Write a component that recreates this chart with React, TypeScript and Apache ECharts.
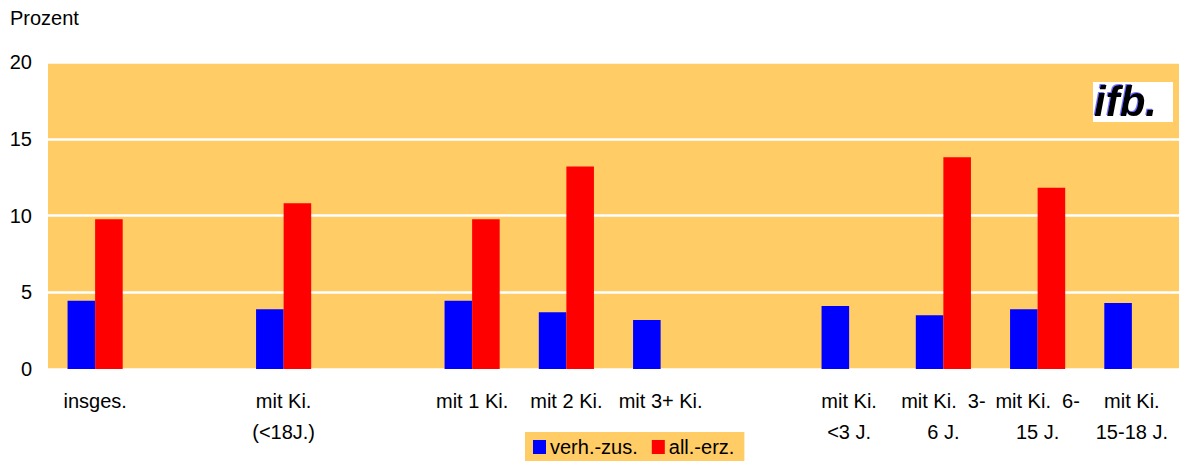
import React, { useEffect, useRef } from "react";
import * as echarts from "echarts";

const categories = [
  "insges.",
  "",
  "mit Ki.\n(<18J.)",
  "",
  "mit 1 Ki.",
  "mit 2 Ki.",
  "mit 3+ Ki.",
  "",
  "mit Ki.\n<3 J.",
  "mit Ki.  3-\n6 J.",
  "mit Ki.  6-\n15 J.",
  "mit Ki.\n15-18 J.",
];
const verhZus = [4.45, null, 3.9, null, 4.45, 3.7, 3.2, null, 4.1, 3.5, 3.9, 4.3];
const allErz = [9.75, null, 10.8, null, 9.75, 13.2, null, null, null, 13.8, 11.8, null];
const seriesNames = ["verh.-zus.", "all.-erz."];
const yTicks = { min: 0, max: 20, interval: 5 };

const FONT = "'Liberation Sans', Arial, sans-serif";

export default function App() {
  const ref = useRef<HTMLDivElement>(null);
  useEffect(() => {
    if (!ref.current) return;
    const chart = echarts.init(ref.current, null, { renderer: "svg" });
    chart.setOption({
      animation: false,
      textStyle: { fontFamily: FONT },
      grid: { left: 48, right: 0, top: 62, bottom: 93, backgroundColor: "#FFCC66", show: true, borderWidth: 0 },
      legend: {
        data: seriesNames,
        left: 525,
        top: 432,
        backgroundColor: "#FFCC66",
        padding: [5, 10, 4, 8],
        itemGap: 14,
        itemWidth: 13,
        itemHeight: 14,
        icon: "rect",
        textStyle: { fontFamily: FONT, fontSize: 20, color: "#000", padding: [0, 0, 0, -1] },
      },
      graphic: [
        {
          type: "text",
          left: 10,
          top: 8,
          style: { text: "Prozent", fontFamily: FONT, fontSize: 20, fill: "#000" },
        },
        {
          type: "rect",
          shape: { x: 1093, y: 82, width: 80, height: 40 },
          style: { fill: "#fff" },
        },
        {
          type: "text",
          x: 1094,
          y: 80,
          style: {
            text: "ifb.",
            fontFamily: FONT,
            fontSize: 42,
            fontWeight: "bold",
            fontStyle: "italic",
            fill: "#000",
            textShadowColor: "rgba(60,60,255,0.7)",
            textShadowOffsetX: -1,
            textShadowOffsetY: -1,
            textShadowBlur: 1,
          },
        },
      ],
      xAxis: {
        type: "category",
        data: categories,
        axisLine: { show: false },
        axisTick: { show: false },
        axisLabel: {
          interval: 0,
          fontFamily: FONT,
          fontSize: 20,
          color: "#000",
          margin: 16,
          lineHeight: 31,
          align: "center",
        },
      },
      yAxis: {
        type: "value",
        min: yTicks.min,
        max: yTicks.max,
        interval: yTicks.interval,
        axisLine: { show: false },
        axisTick: { show: false },
        axisLabel: { fontFamily: FONT, fontSize: 20, color: "#000", margin: 16 },
        splitLine: { show: true, lineStyle: { color: "#fff", width: 2.5 } },
      },
      series: [
        {
          name: seriesNames[0],
          type: "bar",
          data: verhZus,
          itemStyle: { color: "#0000FF" },
          barGap: "0%",
          barCategoryGap: "41.5%",
        },
        {
          name: seriesNames[1],
          type: "bar",
          data: allErz,
          itemStyle: { color: "#FF0000" },
          barGap: "0%",
          barCategoryGap: "41.5%",
        },
      ],
    });
    return () => chart.dispose();
  }, []);
  return (
    <div
      ref={ref}
      style={{ position: "fixed", left: 0, top: 0, width: 1179, height: 462, background: "#fff" }}
    />
  );
}
